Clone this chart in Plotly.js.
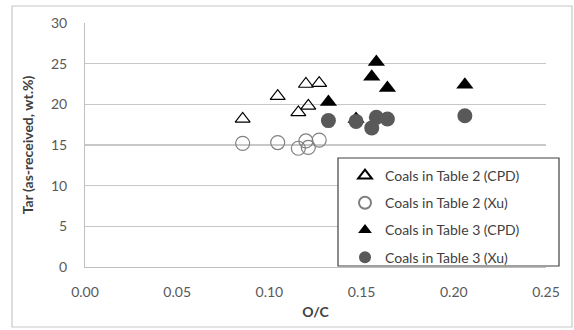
<!DOCTYPE html>
<html>
<head>
<meta charset="utf-8">
<script src="https://cdn.plot.ly/plotly-3.0.1.min.js"></script>
<style>
  html, body { margin: 0; padding: 0; background: #fff; }
  #chart { width: 574px; height: 330px; }
</style>
</head>
<body>
<div id="chart"></div>
<script>
// O/C ratio and tar yield for the coals in Table 2
const ocTable2 = [0.0855, 0.1045, 0.1157, 0.1198, 0.1211, 0.127];
const tarTable2CPD = [18.2, 21.0, 19.0, 22.5, 19.8, 22.6];
const tarTable2Xu = [15.2, 15.3, 14.6, 15.5, 14.7, 15.6];

// O/C ratio and tar yield for the coals in Table 3
const ocTable3 = [0.132, 0.147, 0.1555, 0.158, 0.164, 0.206];
const tarTable3CPD = [20.3, 18.2, 23.4, 25.2, 22.0, 22.4];
const tarTable3Xu = [18.0, 17.9, 17.1, 18.4, 18.2, 18.6];

const seriesNames = [
  'Coals in Table 2 (CPD)',
  'Coals in Table 2 (Xu)',
  'Coals in Table 3 (CPD)',
  'Coals in Table 3 (Xu)'
];
const xTicks = [0, 0.05, 0.1, 0.15, 0.2, 0.25];
const yTicks = [0, 5, 10, 15, 20, 25, 30];

const FONT = 'Lato, "Open Sans", sans-serif';
const TEXT = '#595959';

function series(x, y, name, marker, group) {
  return {
    type: 'scatter', mode: 'markers', x: x, y: y, name: name,
    legendgroup: group, marker: marker, cliponaxis: false
  };
}

const traces = [
  series(ocTable2, tarTable2CPD, seriesNames[0],
    { symbol: 'triangle-up-open', size: 13, color: '#000', line: { width: 1.2, color: '#000' } }, 'g1'),
  series(ocTable2, tarTable2Xu, seriesNames[1],
    { symbol: 'circle-open', size: 14, color: '#7f7f7f', line: { width: 1.2, color: '#7f7f7f' } }, 'g2'),
  series(ocTable3, tarTable3CPD, seriesNames[2],
    { symbol: 'triangle-up', size: 15, color: '#000', line: { width: 0 } }, 'g3'),
  series(ocTable3, tarTable3Xu, seriesNames[3],
    { symbol: 'circle', size: 15, color: '#595959', line: { width: 0 } }, 'g4')
];

// plot area in pixels: left 85, right 546, top 23, bottom 267
const L = 85, R = 546, T = 23, B = 267;
const W = R - L, H = B - T;
const px = v => (v - L) / W;
const py = v => (B - v) / H;

const layout = {
  width: 574, height: 330,
  margin: { l: L, r: 574 - R, t: T, b: 330 - B, pad: 0 },
  paper_bgcolor: '#fff', plot_bgcolor: '#fff',
  font: { family: FONT, size: 13, color: TEXT },
  showlegend: true,
  xaxis: {
    range: [0, 0.25], tickvals: xTicks, ticktext: xTicks.map(v => v.toFixed(2)),
    showgrid: false, zeroline: false, showline: true, linecolor: '#bfbfbf', linewidth: 1,
    ticks: '', ticklen: 0, ticklabelstandoff: 12,
    tickfont: { family: FONT, size: 14, color: TEXT },
    fixedrange: true,
    title: { text: '<b>O/C</b>', font: { family: FONT, size: 14, color: '#404040' }, standoff: 8 }
  },
  yaxis: {
    range: [0, 30], tickvals: yTicks,
    showgrid: true, gridcolor: '#c8c8c8', gridwidth: 1.5,
    zeroline: false, showline: true, linecolor: '#bfbfbf', linewidth: 1,
    ticks: '', ticklabelstandoff: 14,
    tickfont: { family: FONT, size: 14, color: TEXT },
    fixedrange: true,
    title: { text: '<b>Tar (as-received, wt.%)</b>', font: { family: FONT, size: 14, color: '#404040' }, standoff: 14 }
  },
  legend: {
    x: px(345), y: py(160), xanchor: 'left', yanchor: 'top',
    bgcolor: 'rgba(0,0,0,0)', borderwidth: 0,
    traceorder: 'grouped', tracegroupgap: 6, itemsizing: 'constant',
    font: { family: FONT, size: 14, color: '#404040' }
  },
  shapes: [
    // chart frame
    { type: 'rect', xref: 'paper', yref: 'paper', layer: 'below',
      x0: px(12), x1: px(572), y0: py(327), y1: py(6),
      line: { color: '#c8c8c8', width: 1.2 }, fillcolor: 'rgba(0,0,0,0)' },
    // legend box
    { type: 'rect', xref: 'paper', yref: 'paper', layer: 'above',
      x0: px(338), x1: px(559), y0: py(266), y1: py(158),
      line: { color: '#404040', width: 1.2 }, fillcolor: '#fff' }
  ]
};

Plotly.newPlot('chart', traces, layout, { staticPlot: true, displayModeBar: false });
</script>
</body>
</html>
